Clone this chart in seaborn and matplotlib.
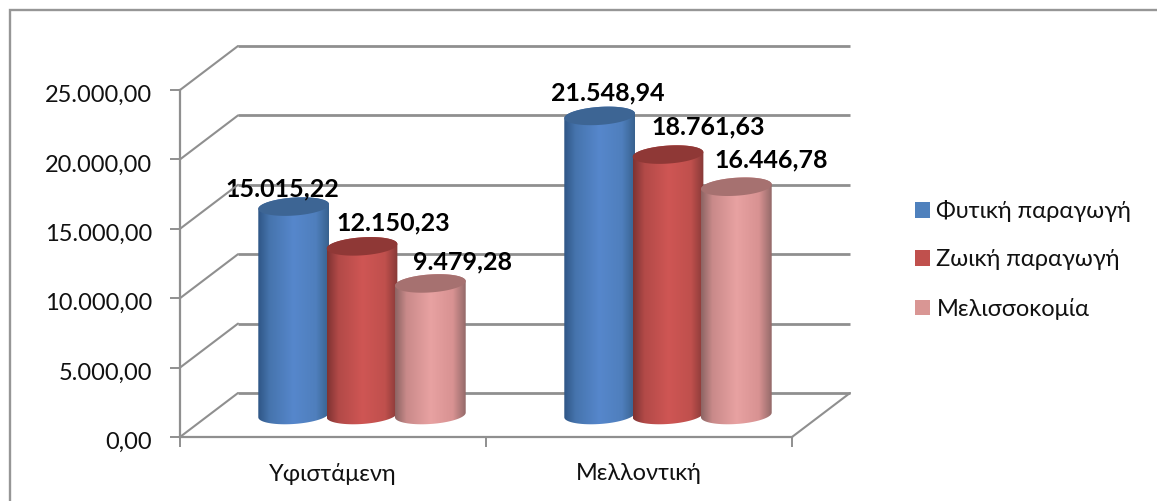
import numpy as np
import pandas as pd
import matplotlib
matplotlib.use("Agg")
import matplotlib.pyplot as plt
import seaborn as sns
from matplotlib.colors import LinearSegmentedColormap
from matplotlib.patches import PathPatch, Rectangle
from matplotlib.path import Path
from matplotlib.ticker import FuncFormatter
from matplotlib.transforms import ScaledTranslation

categories = ["Υφιστάμενη", "Μελλοντική"]
series_names = ["Φυτική παραγωγή", "Ζωική παραγωγή", "Μελισσοκομία"]
plant_values = [15015.22, 21548.94]
animal_values = [12150.23, 18761.63]
bee_values = [9479.28, 16446.78]
y_ticks = [0, 5000, 10000, 15000, 20000, 25000]

W, H = 1157, 501
GRID = "#8f8f8f"
FONT = ["Lato", "Noto Sans", "DejaVu Sans"]
stops = [0, 0.16, 0.5, 0.82, 1]
body_cols = [
    ["#2f5686", "#4674ad", "#5687cc", "#4f7fbd", "#38628f"],
    ["#7f3332", "#b24a48", "#cf5654", "#c0504d", "#863937"],
    ["#8d6463", "#c98a8a", "#e8a2a2", "#d89292", "#946a69"],
]
top_cols = ["#3d6594", "#8f3836", "#a67170"]
legend_cols = ["#4f81bd", "#c0504d", "#d99694"]
label_offsets = [[(-11, 18), (8, 23)], [(31, 23), (40, 28)], [(32, 22), (35, 27)]]

sns.set_theme(style="white")
plt.rcParams["font.family"] = FONT

fig = plt.figure(figsize=(W / 100, H / 100), dpi=100, facecolor="white")


def axes_px(left, top, right, bottom):
    return fig.add_axes([left / W, 1 - bottom / H, (right - left) / W, (bottom - top) / H])


def greek_num(v):
    return f"{v:,.2f}".replace(",", "§").replace(".", ",").replace("§", ".")


# frame of the chart area, running off the picture on the top right
fig.add_artist(Rectangle((9.5 / W, -0.05), 1.1, 1.05 - 10.5 / H, transform=fig.transFigure,
                         fill=False, ec="#969696", lw=1.7))

L, R, T, B = 180, 792, 90, 437
DX, DY = 58, 44

# back wall
back = axes_px(L + DX, T - DY, R + DX, B - DY)
back.set_xlim(-0.5, 1.5)
back.set_ylim(0, 25000)
back.axis("off")
back.hlines(y_ticks, -0.5, 1.5, color=GRID, lw=2.0, clip_on=False)

# front plane: axis lines, ticks, labels
front = axes_px(L, T, R, B)
front.patch.set_alpha(0)
front.set_xlim(-0.5, 1.5)
front.set_ylim(0, 25000)
for s in ["top", "right"]:
    front.spines[s].set_visible(False)
for s in ["left", "bottom"]:
    front.spines[s].set_color(GRID)
    front.spines[s].set_linewidth(1.6)
front.set_yticks(y_ticks)
front.yaxis.set_major_formatter(FuncFormatter(lambda v, _: greek_num(v)))
front.set_xticks([-0.5, 0.5, 1.5])
front.set_xticklabels([])
front.set_xticks([0, 1], minor=True)
front.set_xticklabels(categories, minor=True)
front.tick_params(axis="both", which="major", length=7, width=1.4, color=GRID,
                  left=True, bottom=True, labelsize=17, labelcolor="#111111", pad=13)
front.tick_params(axis="x", which="minor", length=0, labelsize=16.9, labelcolor="#111111", pad=19)
shift_down = ScaledTranslation(0, -2.5 / 72, fig.dpi_scale_trans)
for lab in front.get_yticklabels():
    lab.set_transform(lab.get_transform() + shift_down)

# perspective connectors, scaled through the front axes' own transform
for v in y_ticks:
    x0, y0 = front.transData.transform((-0.5, v))
    fig.add_artist(plt.Line2D([x0 / W, (x0 + DX) / W], [y0 / H, (y0 + DY) / H],
                              transform=fig.transFigure, color=GRID, lw=1.5))
x0, y0 = front.transData.transform((1.5, 0))
fig.add_artist(plt.Line2D([x0 / W, (x0 + DX) / W], [y0 / H, (y0 + DY) / H],
                          transform=fig.transFigure, color=GRID, lw=1.5))

# bars, standing half way into the depth
mid = axes_px(L + DX / 2, T - DY / 2, R + DX / 2, B - DY / 2)
mid.patch.set_alpha(0)
df = pd.DataFrame({
    "cat": categories * 3,
    "series": np.repeat(series_names, 2),
    "value": plant_values + animal_values + bee_values,
})
sns.barplot(data=df, x="cat", y="value", hue="series", hue_order=series_names,
            palette=legend_cols, width=0.67, gap=0, ax=mid, saturation=1, legend=False, errorbar=None)
mid.set_xlim(-0.5, 1.5)
mid.set_ylim(0, 25000)
mid.axis("off")

px_y = 25000 / (B - T)      # data per pixel, vertical
px_x = 2 / (R - L)          # data per pixel, horizontal
SEMI = 9.0
TILT = 0.065


def arc(xc, yc, a, t):
    dx = a * np.cos(t)
    dy_px = SEMI * np.sin(t) + TILT * dx / px_x
    return xc + dx, yc + dy_px * px_y


for i, cont in enumerate(mid.containers):
    cmap = LinearSegmentedColormap.from_list(f"c{i}", list(zip(stops, body_cols[i])))
    for j, bar in enumerate(cont):
        xc = bar.get_x() + bar.get_width() / 2
        a = bar.get_width() / 2 * 1.035
        h = bar.get_height()
        bar.set_visible(False)
        tb = np.linspace(np.pi, 2 * np.pi, 40)
        tt = np.linspace(0, np.pi, 40)
        xb, yb = arc(xc, 0, a, tb)
        xt, yt = arc(xc, h, a, tt)
        verts = np.r_[np.c_[xb, yb], np.c_[xt, yt], [[xb[0], yb[0]]]]
        clip = PathPatch(Path(verts), transform=mid.transData, fc="none", ec="none")
        mid.add_patch(clip)
        im = mid.imshow(np.linspace(0, 1, 128)[None, :], cmap=cmap, aspect="auto",
                        extent=(xc - a, xc + a, -2000, h + 2000), zorder=3 + i)
        im.set_clip_box(fig.bbox)
        im.set_clip_path(clip)
        tf = np.linspace(0, 2 * np.pi, 80)
        xf, yf = arc(xc, h, a, tf)
        mid.add_patch(PathPatch(Path(np.c_[xf, yf]), fc=top_cols[i], ec="none", zorder=3.5 + i))
        ox, oy = label_offsets[i][j]
        mid.annotate(greek_num(h), (xc, h), xytext=(ox * 0.72, oy * 0.72), textcoords="offset points",
                     ha="center", va="center", fontsize=18, fontweight="bold",
                     color="black", zorder=20, annotation_clip=False)
mid.set_xlim(-0.5, 1.5)
mid.set_ylim(0, 25000)

handles = [Rectangle((0, 0), 1, 1, fc=c, ec="none") for c in legend_cols]
fig.legend(handles, series_names, loc="center left", bbox_to_anchor=(915 / W, 1 - 260 / H),
           frameon=False, fontsize=17, labelcolor="#111111", handlelength=0.64, handleheight=0.64,
           handletextpad=0.27, labelspacing=1.15, borderpad=0, borderaxespad=0)

fig.savefig("out.png", dpi=100, facecolor="white")
